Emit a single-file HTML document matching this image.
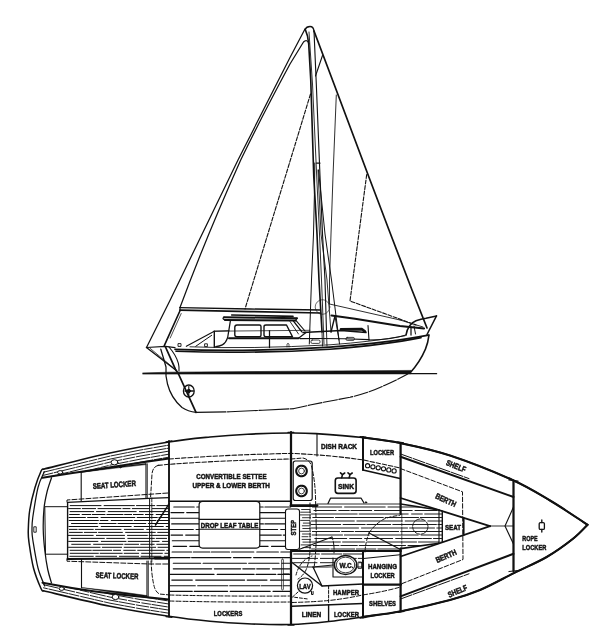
<!DOCTYPE html>
<html lang="en"><head><meta charset="utf-8"><title>Sailboat plan</title>
<style>
html,body{margin:0;padding:0;background:#fff}
svg{display:block}
text{font-family:"Liberation Sans",sans-serif;font-weight:bold;fill:#111;stroke:#111;stroke-width:0.5px}
</style></head><body>
<svg width="600" height="640" viewBox="0 0 600 640" fill="none" stroke="#111" stroke-linecap="round" stroke-linejoin="round">
<rect x="0" y="0" width="600" height="640" fill="#fff" stroke="none"/>

<g id="sailplan">
<polyline points="305,29 290,57.5 238,160 170.2,300 146.5,347.5" stroke-width="1.25" />
<path d="M309 44 C308 40 305.5 40 303.5 42 L290 64 Q262 116 240.7 160 Q205 240 180 307.5" stroke-width="1.25" />
<path d="M305 29.5 Q306.5 26.5 310 26.5 Q313.5 26.5 314 31" stroke-width="1.38" />
<polyline points="305.3,29.5 307.5,36 308.7,44 310.75,80 313.75,176 317,234 319,280 322,332" stroke-width="1.62" />
<polyline points="309,32 312.5,84 316.7,176 319.5,234 321.5,280 324,344" stroke-width="0.88" />
<polyline points="314,31 316.3,84 320,176 322.5,234 325,280 326.5,332" stroke-width="1.12" />
<line x1="316.5" y1="163" x2="320" y2="163" stroke-width="1.25" />
<polyline points="314,31 334,84 368.5,176 389,230 412,290 427,328" stroke-width="1.69" />
<polyline points="322.5,55.5 315.5,76" stroke-width="1.12" />
<polyline points="336.3,95 333,176 331,234 329.5,280 329.5,304" stroke-width="0.88" />
<polyline points="314.8,163 314.5,190 313.5,234 311.5,280 309.3,344" stroke-width="1.0" />
<polyline points="318.5,170 325,234 331.5,280 339.5,344" stroke-width="1.0" />
<polyline points="318,170 321,234 327,280 331,332" stroke-width="0.88" />
<line x1="310.5" y1="94" x2="245" y2="309" stroke-width="1.12" stroke-dasharray="4 1.6"/>
<polyline points="366.7,174.5 350,301 416,325" stroke-width="1.12" stroke-dasharray="4 1.6"/>
<polyline points="180,307.6 250,309 320.5,310" stroke-width="1.38" />
<polyline points="180,310.2 250,311.6 320.5,313" stroke-width="1.75" />
<line x1="180" y1="307.6" x2="180" y2="310.2" stroke-width="1.25" />
<line x1="180.1" y1="310.5" x2="164.3" y2="345.6" stroke-width="1.62" />
<line x1="181.2" y1="313.5" x2="170.2" y2="338" stroke-width="0.75" />
<circle cx="322.5" cy="307" r="7.3" stroke-width="0.6"/>
<polyline points="331.5,315.5 355,318.7 400,326 424,328.5" stroke-width="2.12" />
<line x1="329.5" y1="304" x2="400" y2="320" stroke-width="0.88" />
<line x1="400" y1="320" x2="423" y2="327" stroke-width="0.88" />
<line x1="335" y1="316" x2="331" y2="332" stroke-width="1.38" />
<line x1="335" y1="316" x2="339" y2="340" stroke-width="1.0" />
</g>
<g id="hull">
<polyline points="146.5,347.5 165.5,346.4 175,347.6" stroke-width="1.25" />
<line x1="146.5" y1="347.5" x2="176" y2="370.3" stroke-width="1.38" />
<line x1="150" y1="348.2" x2="173" y2="367.5" stroke-width="0.75" />
<path d="M169 347 Q176 355 178.4 363.3 Q179.3 367 179 371" stroke-width="1.12" />
<path d="M165.5 347 L175.4 369.2 L178.5 374 L196 412.4" stroke-width="1.75" />
<path d="M160.8 349.2 Q163.5 358 166 367 Q165.3 376 167.5 384 Q171 398 182 407.5 Q188 411.5 196 412.4" stroke-width="1.25" />
<ellipse cx="188.8" cy="391" rx="5.4" ry="6" stroke-width="1.3"/>
<circle cx="188.8" cy="391" r="1.7" fill="#111"/>
<line x1="188.8" y1="386.5" x2="188.8" y2="395.5" stroke-width="1.12" />
<line x1="185" y1="391" x2="193.4" y2="391" stroke-width="1.38" />
<path d="M196 412.4 L230 411.8 L262.5 410.2 L293 408.7" stroke-width="1.12" stroke-dasharray="30 1.5"/>
<path d="M293 408.7 Q302 407 310 405 Q330 401 350 397.3 Q370 392.5 385 385.2 Q399 379 410 372.8" stroke-width="1.12" stroke-dasharray="14 1.6"/>
<path d="M143 372.9 L170 372.2 L260 371.5 L340 370.9 L411 370.4 L410.5 373.9 L143 374.1Z" fill="#111" stroke-width="0.6"/>
<line x1="410" y1="373.7" x2="436.6" y2="373.7" stroke-width="1.25" />
<path d="M429 335 Q428 343 425.5 349 Q420 362 410 373" stroke-width="1.62" />
<path d="M175 349.3 Q250 352 330 347.2 Q390 342.6 428.5 335.2" stroke-width="1.75" />
<path d="M176 351.3 Q250 354 330 349.2 Q385 344.8 421 337.6" stroke-width="1.62" />
<path d="M190 346.8 Q250 349.2 330 344.8 Q372 341.8 405 335.8" stroke-width="0.88" />
<polyline points="186.3,346.3 214.3,331.3 229,330.8" stroke-width="1.12" />
<polyline points="195.7,346.3 211.7,335.3" stroke-width="1.0" />
<rect x="178.4" y="343.6" width="2.6" height="2.8" stroke-width="0.9"/>
<rect x="205" y="343.8" width="2.4" height="2.8" stroke-width="0.9"/>
<line x1="214.3" y1="331.3" x2="214.3" y2="347.3" stroke-width="1.38" />
<path d="M230.3 321.3 L227.7 337.3 Q226 343 222.3 344.9 Q219.5 346.3 215.7 346.7" stroke-width="1.25" />
<path d="M224 317.2 L297 318.2" stroke-width="2.0" />
<path d="M225 319.9 L295.5 320.6" stroke-width="2.0" />
<path d="M224 317.2 Q221.5 318.6 225 319.9" stroke-width="1.25" />
<line x1="297" y1="318.2" x2="295.5" y2="320.6" stroke-width="1.25" />
<line x1="231.7" y1="315" x2="293" y2="316.4" stroke-width="1.62" />
<line x1="214" y1="331.2" x2="310" y2="330.3" stroke-width="0.75" />
<path d="M237 325 H259.5 Q261 325 261 326.5 V335.3 Q261 336.8 259.5 336.8 H237 Q234.8 336.8 234.8 334.8 V327.2 Q234.8 325 237 325Z" stroke-width="1.38" />
<path d="M266 325 H286.5 L292.5 336.8 H266 Q264 336.8 264 335 V326.7 Q264 325 266 325Z" stroke-width="1.38" />
<line x1="293.3" y1="320.8" x2="301.7" y2="331.7" stroke-width="1.38" />
<line x1="296.3" y1="320.8" x2="305" y2="331" stroke-width="1.12" />
<line x1="290" y1="321.5" x2="298.5" y2="334" stroke-width="0.88" />
<line x1="229" y1="338.3" x2="298.5" y2="338.3" stroke-width="2.0" />
<line x1="298.5" y1="338.3" x2="306" y2="332.5" stroke-width="1.25" />
<line x1="269.5" y1="330.5" x2="269.5" y2="347.5" stroke-width="1.25" />
<path d="M287 347 V344 Q288 342.6 289 344 V347" stroke-width="0.7"/>
<path d="M303 332.6 L341 330.4 L366 332.6" stroke-width="1.5" />
<path d="M341 329.4 L362 329.2 L365 331.6" stroke-width="2.75" />
<path d="M300 338.6 Q335 338 369 339.6" stroke-width="1.12" />
<line x1="368" y1="325.5" x2="369" y2="340" stroke-width="1.12" />
<path d="M369 340 Q390 340 406 335" stroke-width="1.0" />
<rect x="311" y="340" width="9" height="3.4" rx="1.2" stroke-width="0.8"/>
<rect x="346" y="337.4" width="8.4" height="3" rx="1.2" stroke-width="0.8"/>
<line x1="322" y1="332" x2="322.5" y2="346" stroke-width="0.88" />
<line x1="326.5" y1="332" x2="327" y2="346" stroke-width="0.88" />
<path d="M406 335 Q408 324 416 320.8 Q421 319 426 318.2 L436.5 315.9" stroke-width="1.5" />
<line x1="436.5" y1="315.9" x2="427" y2="334.5" stroke-width="1.5" />
<line x1="411" y1="327" x2="411" y2="335" stroke-width="1.25" />
<line x1="414" y1="326" x2="415.5" y2="334" stroke-width="1.0" />
</g>
<g id="plan">
<defs><clipPath id="cpmain"><path d="M169 501 H291 V594 H169Z"/></clipPath><clipPath id="cpgal"><path d="M300 504 H400.6 L439 510 H442.3 V541.5 H439 V543.3 L400.6 548.6 V551 H300Z"/></clipPath><clipPath id="cphead"><path d="M291 551 H363 V569 H334 V567.5 L313 569 L301 570 L291 561Z"/></clipPath></defs>
<path d="M43.5 469.2 C54.6 466.5 89.1 457.5 110 453 C130.9 448.5 152.1 444.7 168.75 442 C185.4 439.3 196.9 438.3 210 437 C223.1 435.7 234.2 434.9 247.5 434.25 C260.8 433.6 278.6 433.1 290 433 C301.4 432.9 303.9 432.9 316 433.6 C328.1 434.4 348.5 435.9 362.5 437.5 C376.5 439.1 385.4 440.0 400 443 C414.6 446.0 431.2 449.3 450 455.5 C468.8 461.7 495.8 472.5 512.5 480 C529.2 487.5 539.6 494.4 550 500.5 C560.4 506.6 568.8 512.5 575 516.5 C581.2 520.5 585.4 523.4 587.5 524.8" stroke-width="1.69" />
<path d="M43.5 590.8 C54.6 593.4 89.1 602.0 110 606.25 C130.9 610.5 152.1 613.8 168.75 616.25 C185.4 618.8 196.9 620.0 210 621.25 C223.1 622.5 234.2 623.2 247.5 623.75 C260.8 624.3 276.5 624.9 290 624.5 C303.5 624.1 316.7 622.8 328.75 621.5 C340.8 620.2 350.5 618.7 362.5 617 C374.5 615.3 386.4 614.1 401 611.25 C415.6 608.4 436.8 603.5 450 600 C463.2 596.5 469.2 594.5 480 590 C490.8 585.5 503.6 578.2 514.7 572.7 C525.8 567.2 536.9 562.7 546.7 557 C556.5 551.3 566.5 543.9 573.3 538.5 C580.1 533.1 585.1 527.1 587.5 524.8" stroke-width="1.69" />
<path d="M362.5 437.5 C368.8 438.4 385.4 440.0 400 443 C414.6 446.0 431.2 449.3 450 455.5 C468.8 461.7 495.8 472.5 512.5 480 C529.2 487.5 539.6 494.4 550 500.5 C560.4 506.6 568.8 512.5 575 516.5 C581.2 520.5 585.4 523.4 587.5 524.8" stroke-width="2.06" />
<path d="M362.5 617 C368.9 616.0 386.4 614.1 401 611.25 C415.6 608.4 436.8 603.5 450 600 C463.2 596.5 469.2 594.5 480 590 C490.8 585.5 503.6 578.2 514.7 572.7 C525.8 567.2 536.9 562.7 546.7 557 C556.5 551.3 566.5 543.9 573.3 538.5 C580.1 533.1 585.1 527.1 587.5 524.8" stroke-width="2.06" />
<path d="M43.5 469.2 C43.1 469.5 42.6 467.8 41.2 470.8 C39.8 473.9 36.9 481.0 35 487.5 C33.1 494.0 30.9 502.8 29.75 510 C28.6 517.2 28.4 525.6 28.25 531 C28.1 536.4 28.1 536.3 29 542.5 C29.9 548.7 31.5 560.3 33.5 568 C35.5 575.7 39.3 584.7 41 588.5 C42.7 592.3 43.1 590.4 43.5 590.8" stroke-width="1.5" />
<path d="M44.3 471.75 C43.2 474.4 39.9 479.9 38 487.5 C36.1 495.1 33.8 510.4 32.75 517.5 C31.8 524.6 32.0 526.3 32 530 C32.0 533.7 31.8 533.2 32.75 539.5 C33.8 545.8 36.0 560.2 38 568 C40.0 575.8 43.6 583.0 44.75 586" stroke-width="1.25" />
<path d="M51.5 477.75 C50.8 480.1 48.2 486.9 47 492 C45.8 497.1 44.6 502.2 44 508.5 C43.4 514.8 43.1 523.1 43.25 530 C43.4 536.9 44.0 543.4 44.75 550 C45.5 556.6 46.6 564.0 47.75 569.5 C48.9 575.0 50.9 580.8 51.5 583" stroke-width="1.25" />
<rect x="34.2" y="526.8" width="2" height="5.4" stroke-width="0.9"/>
<defs><clipPath id="cpdeckT"><path d="M40 466 L110 450 L169 440 L169 458.5 L95 469.75 L42.5 477.75Z"/></clipPath><clipPath id="cpdeckB"><path d="M40 594 L110 610 L169 619 L169 599.5 L95 591.5 L42.5 582.5Z"/></clipPath></defs>
<path d="M43.5 472.2 L110.0 456.1 L140.0 450.1 L168.8 445.1" stroke-width="0.94" stroke-dasharray="11.9 1.2 16.8 1.1 15.0 1.4 7.9 1.6" stroke-dashoffset="0.7" clip-path="url(#cpdeckT)"/>
<path d="M43.5 587.8 L110.0 603.2 L140.0 608.7 L168.8 613.2" stroke-width="0.94" stroke-dasharray="13.5 1.1 8.4 1.5 19.4 1.1 10.3 1.8" stroke-dashoffset="19.0" clip-path="url(#cpdeckB)"/>
<path d="M43.5 475.3 L110.0 459.1 L140.0 453.1 L168.8 448.1" stroke-width="0.94" stroke-dasharray="15.7 1.5 21.6 1.1 19.9 1.3 9.2 1.1" stroke-dashoffset="6.2" clip-path="url(#cpdeckT)"/>
<path d="M43.5 584.7 L110.0 600.1 L140.0 605.6 L168.8 610.1" stroke-width="0.94" stroke-dasharray="19.2 1.2 15.7 1.8 12.6 1.7 7.9 1.1" stroke-dashoffset="4.1" clip-path="url(#cpdeckB)"/>
<path d="M43.5 478.3 L110.0 462.1 L140.0 456.1 L168.8 451.1" stroke-width="0.94" stroke-dasharray="17.2 1.5 11.7 1.7 13.8 1.4 18.9 1.8" stroke-dashoffset="4.9" clip-path="url(#cpdeckT)"/>
<path d="M43.5 581.6 L110.0 597.1 L140.0 602.6 L168.8 607.1" stroke-width="0.94" stroke-dasharray="15.6 1.6 20.1 1.9 11.3 2.2 8.8 1.5" stroke-dashoffset="15.1" clip-path="url(#cpdeckB)"/>
<path d="M43.5 481.4 L110.0 465.2 L140.0 459.2 L168.8 454.2" stroke-width="0.94" stroke-dasharray="9.3 1.6 7.6 1.8 18.5 1.7 20.1 1.4" stroke-dashoffset="13.9" clip-path="url(#cpdeckT)"/>
<path d="M43.5 578.6 L110.0 594.0 L140.0 599.5 L168.8 604.0" stroke-width="0.94" stroke-dasharray="15.9 1.7 13.8 2.0 21.2 1.6 17.0 1.1" stroke-dashoffset="14.0" clip-path="url(#cpdeckB)"/>
<path d="M43.5 484.4 L110.0 468.2 L140.0 462.2 L168.8 457.2" stroke-width="0.94" stroke-dasharray="16.7 2.2 19.3 1.3 12.8 1.8 7.3 1.6" stroke-dashoffset="3.4" clip-path="url(#cpdeckT)"/>
<path d="M43.5 575.5 L110.0 591.0 L140.0 596.5 L168.8 601.0" stroke-width="0.94" stroke-dasharray="8.8 1.1 18.5 1.2 10.7 1.5 20.1 1.1" stroke-dashoffset="9.0" clip-path="url(#cpdeckB)"/>
<path d="M42.5 477.75 Q70 473.2 95 469.75 Q130 464 169 458.5" stroke-width="2.0" />
<path d="M42.5 582.8 Q70 588 95 591.6 Q130 596 169 599.5" stroke-width="2.0" />
<path d="M81 472.3 L120 466.2 L146 463.6 L146 464.6 L120 467.6Z" fill="#111" stroke-width="0.5"/>
<path d="M81.5 587.6 L120 593.4 L147 596.8 L147 595.6 L120 591.8Z" fill="#111" stroke-width="0.5"/>
<ellipse cx="60.2" cy="472.3" rx="2.6" ry="1.7" stroke-width="1" fill="#fff"/>
<ellipse cx="114.5" cy="462.3" rx="3.4" ry="2.6" stroke-width="1" fill="#fff"/>
<circle cx="120.5" cy="466.6" r="1.2" fill="#111"/>
<ellipse cx="61.7" cy="588.7" rx="2.6" ry="1.7" stroke-width="1" fill="#fff"/>
<ellipse cx="115.5" cy="597" rx="3.4" ry="2.6" stroke-width="1" fill="#fff"/>
<polyline points="67.7,506.7 44.8,506.7 45.5,554.2 67.7,554.2" stroke-width="1.0" />
<polyline points="81.2,501 81.2,472.3" stroke-width="1.12" />
<polyline points="146,463.8 146,498.3" stroke-width="1.12" />
<polyline points="81.5,559 81.5,587.6" stroke-width="1.12" />
<polyline points="147,596.5 147,561" stroke-width="1.12" />
<line x1="147.4" y1="463.8" x2="147.4" y2="498" stroke-width="0.75" />
<line x1="148.4" y1="596.5" x2="148.4" y2="561" stroke-width="0.75" />
<defs><clipPath id="cpcock"><path d="M67.6 502.4 L149 498.4 L169 497.6 L169 559 L67.6 559Z"/></clipPath></defs>
<polyline points="67.6,559 67.6,502.4 149,498.4 169,497.6" stroke-width="1.38" />
<line x1="67.6" y1="559" x2="169" y2="558.2" stroke-width="1.88" />
<line x1="149.6" y1="498.4" x2="149.6" y2="558" stroke-width="1.0" />
<line x1="151.8" y1="498" x2="151.8" y2="562" stroke-width="0.88" stroke-dasharray="4 1.5"/>
<path d="M70.2 505.6H101.0M104.1 505.6H134.4M136.5 505.6H154.7M156.9 505.6H169.0" stroke-width="1.0" clip-path="url(#cpcock)"/>
<path d="M68.6 508.6H80.4M82.3 508.6H95.6M98.0 508.6H120.9M122.9 508.6H130.0M132.3 508.6H149.3M151.9 508.6H169.0" stroke-width="1.0" clip-path="url(#cpcock)"/>
<path d="M70.1 511.6H93.7M96.5 511.6H105.0M108.2 511.6H136.2M139.4 511.6H168.0" stroke-width="1.0" clip-path="url(#cpcock)"/>
<path d="M69.6 514.5H79.4M82.1 514.5H90.8M92.4 514.5H105.0M106.9 514.5H123.0M124.6 514.5H131.6M133.4 514.5H143.2M145.4 514.5H153.0M156.2 514.5H169.0" stroke-width="1.0" clip-path="url(#cpcock)"/>
<path d="M69.0 517.5H85.4M87.6 517.5H97.9M101.0 517.5H134.8M137.2 517.5H157.3M158.9 517.5H168.7" stroke-width="1.0" clip-path="url(#cpcock)"/>
<path d="M69.1 520.5H98.4M100.2 520.5H107.9M111.2 520.5H132.4M134.2 520.5H155.9M157.4 520.5H169.0" stroke-width="1.0" clip-path="url(#cpcock)"/>
<path d="M71.5 523.5H97.3M99.2 523.5H116.1M118.0 523.5H145.8M148.3 523.5H169.0" stroke-width="1.0" clip-path="url(#cpcock)"/>
<path d="M68.9 526.5H97.8M101.2 526.5H131.2M134.2 526.5H163.3M166.2 526.5H169.0" stroke-width="1.0" clip-path="url(#cpcock)"/>
<path d="M69.4 529.4H77.2M78.8 529.4H93.3M95.3 529.4H121.0M124.3 529.4H143.4M146.7 529.4H169.0" stroke-width="1.0" clip-path="url(#cpcock)"/>
<path d="M69.5 532.4H82.4M84.3 532.4H96.7M98.5 532.4H122.4M125.6 532.4H155.3M157.7 532.4H169.0" stroke-width="1.0" clip-path="url(#cpcock)"/>
<path d="M68.3 535.4H93.2M96.4 535.4H124.5M127.5 535.4H147.4M149.2 535.4H169.0" stroke-width="1.0" clip-path="url(#cpcock)"/>
<path d="M71.2 538.4H104.4M106.7 538.4H124.5M127.8 538.4H154.4M156.2 538.4H166.6M168.4 538.4H169.0" stroke-width="1.0" clip-path="url(#cpcock)"/>
<path d="M68.6 541.4H97.9M101.3 541.4H126.0M128.2 541.4H150.0M151.7 541.4H159.1M162.5 541.4H169.0" stroke-width="1.0" clip-path="url(#cpcock)"/>
<path d="M71.7 544.3H90.4M93.6 544.3H122.9M124.8 544.3H138.6M140.7 544.3H154.2M156.8 544.3H169.0" stroke-width="1.0" clip-path="url(#cpcock)"/>
<path d="M68.5 547.3H100.1M102.3 547.3H121.6M124.2 547.3H155.7M158.0 547.3H169.0" stroke-width="1.0" clip-path="url(#cpcock)"/>
<path d="M70.1 550.3H91.3M92.8 550.3H111.7M113.5 550.3H120.6M123.7 550.3H135.3M137.7 550.3H164.3M166.8 550.3H169.0" stroke-width="1.0" clip-path="url(#cpcock)"/>
<path d="M70.2 553.3H98.4M100.1 553.3H122.2M124.2 553.3H138.7M141.6 553.3H162.4M164.9 553.3H169.0" stroke-width="1.0" clip-path="url(#cpcock)"/>
<path d="M69.8 556.3H93.3M95.8 556.3H116.6M119.4 556.3H138.6M141.1 556.3H161.0M164.3 556.3H169.0" stroke-width="1.0" clip-path="url(#cpcock)"/>
<polyline points="67,502 67,500 168,493" stroke-width="1.0" stroke-dasharray="5 2"/>
<polyline points="67,559 67,561.2 150,564 168,564" stroke-width="1.0" stroke-dasharray="5 2"/>
<path d="M158 465.4 Q152.6 467 152 474 L150.6 497" stroke-width="1.0" stroke-dasharray="4 2"/>
<path d="M151 561 L151.8 572.4 Q153 583 154.6 587.8 Q156.5 593.3 160.2 594.1 L169 594.9" stroke-width="1.0" stroke-dasharray="4 2"/>
<line x1="169" y1="441" x2="169" y2="616.5" stroke-width="1.88" />
<line x1="169" y1="504" x2="155.5" y2="525" stroke-width="1.5" />
<line x1="155" y1="558" x2="169" y2="558" stroke-width="2.75" />
<line x1="169" y1="501.2" x2="290.5" y2="501.2" stroke-width="1.38" />
<path d="M169 459 Q230 454.6 291 453.4 Q330 455 363.4 460 L400.5 468" stroke-width="1.06" stroke-dasharray="4.5 1.8"/>
<path d="M158 465.4 L169 464.3 Q230 460 291 459" stroke-width="1.06" stroke-dasharray="4.5 1.8"/>
<path d="M173.8 507.0H194.2M196.8 507.0H244.5M247.7 507.0H263.2M264.9 507.0H291.0" stroke-width="1.15" clip-path="url(#cpmain)"/>
<path d="M171.0 512.6H183.9M186.7 512.6H228.1M231.4 512.6H247.6M250.5 512.6H286.9M288.7 512.6H291.0" stroke-width="1.15" clip-path="url(#cpmain)"/>
<path d="M170.9 518.2H219.0M221.3 518.2H250.8M254.2 518.2H291.0" stroke-width="1.15" clip-path="url(#cpmain)"/>
<path d="M171.7 523.9H202.4M204.5 523.9H222.4M224.5 523.9H263.4M264.9 523.9H291.0" stroke-width="1.15" clip-path="url(#cpmain)"/>
<path d="M170.1 529.5H193.3M196.1 529.5H226.6M228.2 529.5H277.6M280.7 529.5H291.0" stroke-width="1.15" clip-path="url(#cpmain)"/>
<path d="M171.1 535.1H182.6M185.7 535.1H206.5M208.3 535.1H235.2M238.5 535.1H281.3M283.3 535.1H291.0" stroke-width="1.15" clip-path="url(#cpmain)"/>
<path d="M172.3 540.7H210.3M212.0 540.7H224.3M227.2 540.7H254.2M255.8 540.7H291.0" stroke-width="1.15" clip-path="url(#cpmain)"/>
<path d="M173.2 546.3H186.6M189.8 546.3H202.4M205.7 546.3H233.8M236.0 546.3H268.1M271.5 546.3H291.0" stroke-width="1.15" clip-path="url(#cpmain)"/>
<path d="M172.1 552.0H191.6M193.4 552.0H209.8M211.4 552.0H229.5M231.6 552.0H253.8M256.8 552.0H278.4M280.9 552.0H291.0" stroke-width="1.15" clip-path="url(#cpmain)"/>
<path d="M170.1 557.6H190.1M191.6 557.6H230.9M233.5 557.6H251.1M253.6 557.6H291.0" stroke-width="1.15" clip-path="url(#cpmain)"/>
<path d="M173.3 563.2H200.6M203.1 563.2H246.4M248.7 563.2H279.0M281.9 563.2H291.0" stroke-width="1.15" clip-path="url(#cpmain)"/>
<path d="M173.3 568.8H211.6M214.4 568.8H240.6M242.8 568.8H254.9M256.7 568.8H269.5M272.5 568.8H291.0" stroke-width="1.15" clip-path="url(#cpmain)"/>
<path d="M170.3 574.4H214.0M217.2 574.4H254.1M256.1 574.4H275.8M277.9 574.4H291.0" stroke-width="1.15" clip-path="url(#cpmain)"/>
<path d="M171.8 580.1H192.3M195.7 580.1H244.6M247.2 580.1H267.0M270.4 580.1H291.0" stroke-width="1.15" clip-path="url(#cpmain)"/>
<path d="M170.0 585.7H195.3M197.7 585.7H227.8M229.7 585.7H259.9M261.4 585.7H282.0M283.7 585.7H291.0" stroke-width="1.15" clip-path="url(#cpmain)"/>
<path d="M170.1 591.3H192.3M194.2 591.3H227.6M230.2 591.3H270.2M273.0 591.3H291.0" stroke-width="1.15" clip-path="url(#cpmain)"/>
<path d="M301.6 509.5H309.5" stroke-width="0.85" clip-path="url(#cpgal)"/>
<path d="M300.6 512.2H310.5" stroke-width="0.85" clip-path="url(#cpgal)"/>
<path d="M300.2 514.9H310.5" stroke-width="0.85" clip-path="url(#cpgal)"/>
<path d="M302.5 517.7H310.5" stroke-width="0.85" clip-path="url(#cpgal)"/>
<path d="M300.6 520.4H309.7" stroke-width="0.85" clip-path="url(#cpgal)"/>
<path d="M303.3 523.1H310.5" stroke-width="0.85" clip-path="url(#cpgal)"/>
<path d="M302.3 525.8H310.5" stroke-width="0.85" clip-path="url(#cpgal)"/>
<path d="M302.8 528.5H310.2" stroke-width="0.85" clip-path="url(#cpgal)"/>
<path d="M300.5 531.3H308.7M309.8 531.3H310.5" stroke-width="0.85" clip-path="url(#cpgal)"/>
<path d="M302.5 534.0H310.5" stroke-width="0.85" clip-path="url(#cpgal)"/>
<path d="M302.0 536.7H308.0M309.8 536.7H310.5" stroke-width="0.85" clip-path="url(#cpgal)"/>
<path d="M302.1 539.4H310.5" stroke-width="0.85" clip-path="url(#cpgal)"/>
<path d="M302.9 542.1H310.5" stroke-width="0.85" clip-path="url(#cpgal)"/>
<path d="M301.1 544.9H310.5" stroke-width="0.85" clip-path="url(#cpgal)"/>
<path d="M303.0 547.6H310.5" stroke-width="0.85" clip-path="url(#cpgal)"/>
<path d="M312.5 507.0H341.7M344.6 507.0H385.2M388.0 507.0H423.7M425.3 507.0H441.2" stroke-width="0.95" clip-path="url(#cpgal)"/>
<path d="M314.0 510.5H336.1M338.8 510.5H349.3M350.9 510.5H371.7M374.5 510.5H412.2M415.0 510.5H436.7M439.2 510.5H442.0" stroke-width="0.95" clip-path="url(#cpgal)"/>
<path d="M311.5 514.0H357.2M359.1 514.0H408.2M411.6 514.0H422.3M424.7 514.0H442.0" stroke-width="0.95" clip-path="url(#cpgal)"/>
<path d="M312.8 517.5H333.5M335.5 517.5H383.3M385.2 517.5H418.5M420.3 517.5H442.0" stroke-width="0.95" clip-path="url(#cpgal)"/>
<path d="M311.5 521.0H354.3M356.9 521.0H402.3M405.2 521.0H424.5M427.8 521.0H442.0" stroke-width="0.95" clip-path="url(#cpgal)"/>
<path d="M311.0 524.5H340.7M343.1 524.5H365.2M366.9 524.5H390.7M392.8 524.5H436.4M437.9 524.5H442.0" stroke-width="0.95" clip-path="url(#cpgal)"/>
<path d="M311.5 528.0H358.5M361.5 528.0H407.5M409.6 528.0H434.5M436.8 528.0H442.0" stroke-width="0.95" clip-path="url(#cpgal)"/>
<path d="M312.4 531.5H339.6M341.6 531.5H353.5M355.2 531.5H398.6M400.7 531.5H442.0" stroke-width="0.95" clip-path="url(#cpgal)"/>
<path d="M312.1 535.0H342.5M344.4 535.0H369.3M372.7 535.0H418.1M421.2 535.0H442.0" stroke-width="0.95" clip-path="url(#cpgal)"/>
<path d="M314.8 538.5H346.7M349.7 538.5H361.7M364.6 538.5H392.6M395.7 538.5H431.4M433.5 538.5H442.0" stroke-width="0.95" clip-path="url(#cpgal)"/>
<path d="M311.5 542.0H340.4M342.6 542.0H364.5M367.5 542.0H416.5M418.5 542.0H442.0" stroke-width="0.95" clip-path="url(#cpgal)"/>
<path d="M313.2 545.5H339.0M340.8 545.5H357.3M359.2 545.5H405.5M408.0 545.5H426.8M430.1 545.5H442.0" stroke-width="0.95" clip-path="url(#cpgal)"/>
<path d="M311.6 549.0H329.3M330.9 549.0H354.6M356.3 549.0H375.9M377.9 549.0H410.7M413.9 549.0H442.0" stroke-width="0.95" clip-path="url(#cpgal)"/>
<path d="M293.7 554.0H319.4M321.6 554.0H341.8M343.4 554.0H361.7" stroke-width="0.95" clip-path="url(#cphead)"/>
<path d="M292.5 558.4H317.6M320.4 558.4H356.3M358.2 558.4H363.0" stroke-width="0.95" clip-path="url(#cphead)"/>
<path d="M293.6 562.7H317.0M320.4 562.7H355.8M359.1 562.7H363.0" stroke-width="0.95" clip-path="url(#cphead)"/>
<path d="M294.8 567.0H331.7M334.2 567.0H361.8" stroke-width="0.95" clip-path="url(#cphead)"/>
<rect x="199.1" y="501.3" width="60.7" height="46.8" rx="3.5" fill="#fff" stroke-width="1.2"/>
<line x1="199.1" y1="519.4" x2="259.8" y2="519.4" stroke-width="1.12" />
<line x1="199.1" y1="529.2" x2="259.8" y2="529.2" stroke-width="1.12" />
<path d="M169 595 Q230 596.5 291 596" stroke-width="1.0" stroke-dasharray="5 2"/>
<path d="M169 601 Q230 602.5 291 602 " stroke-width="1.0" stroke-dasharray="5 2"/>
<line x1="291" y1="432" x2="291" y2="506" stroke-width="2.25" />
<line x1="291" y1="551" x2="291" y2="624" stroke-width="2.25" />
<line x1="291" y1="505.5" x2="317" y2="505.5" stroke-width="2.75" />
<rect x="285.5" y="509" width="14" height="40.5" rx="2.5" fill="#fff" stroke-width="1.1"/>
<rect x="281.6" y="559" width="1.8" height="31" rx="0.9" stroke-width="0.7"/>
<line x1="283.5" y1="574" x2="289" y2="574" stroke-width="1.0" />
<rect x="293.2" y="461" width="19" height="39.5" rx="2.2" stroke-width="1.2"/>
<circle cx="301.5" cy="471" r="5.3" stroke-width="2.1" stroke-dasharray="2.6 0.7"/>
<circle cx="301.5" cy="471" r="2.9" stroke-width="0.8"/>
<circle cx="301.5" cy="491" r="5.3" stroke-width="2.1" stroke-dasharray="2.6 0.7"/>
<circle cx="301.5" cy="491" r="2.9" stroke-width="0.8"/>
<line x1="317" y1="433.5" x2="317" y2="456" stroke-width="1.12" />
<line x1="363" y1="437" x2="363" y2="470" stroke-width="2.0" />
<line x1="363" y1="470" x2="400" y2="478.5" stroke-width="1.75" />
<circle cx="367.6" cy="465.7" r="2.1" stroke-width="1.1"/>
<circle cx="372.9" cy="466.8" r="2.1" stroke-width="1.1"/>
<circle cx="378.2" cy="467.8" r="2.1" stroke-width="1.1"/>
<circle cx="383.5" cy="468.8" r="2.1" stroke-width="1.1"/>
<circle cx="388.8" cy="469.9" r="2.1" stroke-width="1.1"/>
<circle cx="394.1" cy="470.9" r="2.1" stroke-width="1.1"/>
<line x1="400.6" y1="443" x2="400.6" y2="514" stroke-width="2.25" />
<line x1="400.6" y1="548.6" x2="400.6" y2="611" stroke-width="2.25" />
<line x1="401.8" y1="514" x2="401.8" y2="548.6" stroke-width="0.75" stroke-dasharray="3 1.5"/>
<rect x="335.3" y="478" width="20.8" height="15.4" rx="2.6" stroke-width="1.6"/>
<path d="M341.7 477.6 L342.5 474.6 L340.5 472.8 M342.5 474.6 L344.7 473" stroke-width="1.62" />
<path d="M349.2 477.6 L350 474.6 L348 472.8 M350 474.6 L352.2 473" stroke-width="1.62" />
<path d="M328 503.5 L330.6 498 H361 L364 503" stroke-width="1.25" />
<circle cx="366" cy="502.4" r="0.7" fill="#111"/>
<path d="M291 459 L303 458 Q309.5 459.5 311.5 466 Q315 480 315.5 497 L316.3 530 Q316.3 552 314 568" stroke-width="1.0" stroke-dasharray="4 2"/>
<path d="M310 503 L310 550 Q309.5 562 306 570 Q303 576 298 579" stroke-width="1.0" stroke-dasharray="4 2"/>
<path d="M332 537 Q334.5 544 334 553" stroke-width="1.0" stroke-dasharray="3 1.8"/>
<path d="M369 533 Q375 524 384 519 Q392 516 399.5 515.5" stroke-width="1.0" stroke-dasharray="4 2"/>
<path d="M369 533 Q365.5 542 365 552" stroke-width="1.0" stroke-dasharray="3 1.8"/>
<line x1="369" y1="533" x2="399.5" y2="549" stroke-width="1.25" />
<line x1="299.5" y1="549.3" x2="332" y2="537" stroke-width="1.12" />
<line x1="317" y1="504" x2="400.5" y2="504" stroke-width="0.88" />
<line x1="363.5" y1="558.5" x2="400" y2="554.7" stroke-width="1.12" />
<line x1="291" y1="551" x2="401" y2="551" stroke-width="1.88" />
<line x1="363" y1="551" x2="363" y2="617.5" stroke-width="2.0" />
<line x1="363" y1="584.5" x2="401" y2="584.5" stroke-width="2.25" />
<line x1="291.8" y1="606.2" x2="363" y2="603.4" stroke-width="1.5" />
<line x1="328.6" y1="604.8" x2="328.6" y2="621.3" stroke-width="1.38" />
<line x1="328.6" y1="586" x2="328.6" y2="604" stroke-width="1.0" stroke-dasharray="3 1.5"/>
<polyline points="291.4,562 322,586 363,584" stroke-width="1.38" />
<polyline points="313,567 322,586" stroke-width="1.25" />
<polyline points="313,567 333,565" stroke-width="1.12" />
<polyline points="333,558 333,577 362,577" stroke-width="1.12" />
<ellipse cx="345.6" cy="565" rx="11.2" ry="9.6" fill="#fff" stroke-width="1.5"/>
<ellipse cx="345.6" cy="565" rx="9.3" ry="7.8" stroke-width="0.8"/>
<rect x="358.5" y="562" width="3" height="6.5" stroke-width="0.8"/>
<circle cx="305" cy="585.6" r="7.6" fill="#fff" stroke-width="1.2"/>
<path d="M311.5 591.5 v3 h1.6 v-3" stroke-width="1.0" />
<path d="M291.8 602.5 Q312 602 329 600.5 Q347 598.5 362.5 595 Q385 591.5 400.5 587" stroke-width="1.0" stroke-dasharray="4.5 2"/>
<path d="M298 592 L292.5 597 L308 599" stroke-width="1.0" stroke-dasharray="3 1.8"/>
<path d="M296 575 Q300 560 312 556" stroke-width="1.0" stroke-dasharray="3 2"/>
<line x1="400.6" y1="456.7" x2="513.5" y2="497" stroke-width="2.0" />
<line x1="400.6" y1="454" x2="469" y2="478.6" stroke-width="1.0" stroke-dasharray="12 1.5"/>
<line x1="400.6" y1="596.4" x2="513.5" y2="553.8" stroke-width="2.0" />
<line x1="400.6" y1="599" x2="469" y2="573.8" stroke-width="1.0" stroke-dasharray="12 1.5"/>
<line x1="400.6" y1="498" x2="490" y2="526.2" stroke-width="1.81" />
<line x1="400.6" y1="556.5" x2="490" y2="526.2" stroke-width="1.81" />
<polyline points="400.6,468.6 462.5,491.8 463,559.5 401,584" stroke-width="1.0" stroke-dasharray="4.5 2"/>
<line x1="442.3" y1="511.3" x2="442.3" y2="541.5" stroke-width="1.38" />
<line x1="439" y1="510" x2="439" y2="543.3" stroke-width="1.12" />
<line x1="463.7" y1="518" x2="463.7" y2="535" stroke-width="1.75" />
<line x1="400.6" y1="504" x2="439" y2="510" stroke-width="1.62" />
<line x1="400.6" y1="548.6" x2="439" y2="543.3" stroke-width="1.62" />
<circle cx="420.3" cy="526.6" r="7.7" stroke-width="0.9" stroke-dasharray="5 1.2"/>
<line x1="166" y1="441.72" x2="172" y2="440.88" stroke-width="1.12" />
<line x1="287.9" y1="432.42999999999995" x2="293.9" y2="432.37" stroke-width="1.12" />
<line x1="360" y1="436.47" x2="366" y2="437.13" stroke-width="1.12" />
<line x1="397.6" y1="441.79" x2="403.6" y2="442.81" stroke-width="1.12" />
<line x1="166" y1="616.58" x2="172" y2="617.42" stroke-width="1.12" />
<line x1="288" y1="625.2" x2="294" y2="625.2" stroke-width="1.12" />
<line x1="360" y1="618.16" x2="366" y2="617.4399999999999" stroke-width="1.12" />
<line x1="398" y1="612.51" x2="404" y2="611.49" stroke-width="1.12" />
<line x1="513.5" y1="480.5" x2="513.5" y2="571" stroke-width="2.25" />
<line x1="509" y1="480" x2="518" y2="481" stroke-width="1.25" />
<line x1="509" y1="571.5" x2="518" y2="570.5" stroke-width="1.25" />
<line x1="490" y1="526" x2="513" y2="526" stroke-width="0.88" />
<polyline points="513.5,507 505,526 513.5,544" stroke-width="1.12" />
<rect x="539.2" y="522.6" width="5.2" height="6.8" rx="1.2" stroke-width="1.3"/>
<line x1="541.8" y1="520" x2="541.8" y2="522.6" stroke-width="1.38" />
<line x1="541.8" y1="529.4" x2="541.8" y2="532" stroke-width="1.38" />
</g>
<g id="labels" opacity="0.99">
<text x="92.7" y="487.5" font-size="8" textLength="43.2" lengthAdjust="spacingAndGlyphs" transform="rotate(-4 114.3 484.6)">SEAT LOCKER</text>
<text x="95.7" y="578.5" font-size="8" textLength="42.7" lengthAdjust="spacingAndGlyphs" transform="rotate(2 117 575.6)">SEAT LOCKER</text>
<text x="196.3" y="479.2" font-size="8" textLength="70.3" lengthAdjust="spacingAndGlyphs">CONVERTIBLE SETTEE</text>
<text x="192.4" y="488.3" font-size="8" textLength="77.5" lengthAdjust="spacingAndGlyphs">UPPER &amp; LOWER BERTH</text>
<text x="200.8" y="527.5" font-size="8" textLength="57.5" lengthAdjust="spacingAndGlyphs">DROP LEAF TABLE</text>
<text x="285.1" y="530.7" font-size="8" textLength="15.6" lengthAdjust="spacingAndGlyphs" transform="rotate(-90 292.9 527.8)">STEP</text>
<text x="321.0" y="448.9" font-size="8" textLength="36" lengthAdjust="spacingAndGlyphs">DISH RACK</text>
<text x="370.0" y="454.9" font-size="8" textLength="24" lengthAdjust="spacingAndGlyphs">LOCKER</text>
<text x="338.0" y="489.2" font-size="8" textLength="16" lengthAdjust="spacingAndGlyphs">SINK</text>
<text x="339.5" y="568.4" font-size="8" textLength="14" lengthAdjust="spacingAndGlyphs">W.C.</text>
<text x="299.2" y="588.7" font-size="8" textLength="11.5" lengthAdjust="spacingAndGlyphs">LAV</text>
<text x="368.0" y="568.9" font-size="8" textLength="29" lengthAdjust="spacingAndGlyphs">HANGING</text>
<text x="370.4" y="577.5" font-size="8" textLength="24.2" lengthAdjust="spacingAndGlyphs">LOCKER</text>
<text x="333.0" y="595.4" font-size="8" textLength="26" lengthAdjust="spacingAndGlyphs">HAMPER</text>
<text x="301.8" y="616.6" font-size="8" textLength="19.5" lengthAdjust="spacingAndGlyphs">LINEN</text>
<text x="334.0" y="616.9" font-size="8" textLength="25" lengthAdjust="spacingAndGlyphs">LOCKER</text>
<text x="369.0" y="605.9" font-size="8" textLength="27" lengthAdjust="spacingAndGlyphs">SHELVES</text>
<text x="213.8" y="615.9" font-size="8" textLength="28.5" lengthAdjust="spacingAndGlyphs">LOCKERS</text>
<text x="445.8" y="468.9" font-size="8" textLength="20.5" lengthAdjust="spacingAndGlyphs" transform="rotate(22 456 466)">SHELF</text>
<text x="435.0" y="502.9" font-size="8" textLength="22" lengthAdjust="spacingAndGlyphs" transform="rotate(25 446 500)">BERTH</text>
<text x="445.0" y="529.9" font-size="8" textLength="16" lengthAdjust="spacingAndGlyphs">SEAT</text>
<text x="435.0" y="558.9" font-size="8" textLength="22" lengthAdjust="spacingAndGlyphs" transform="rotate(-24 446 556)">BERTH</text>
<text x="447.2" y="593.9" font-size="8" textLength="20.5" lengthAdjust="spacingAndGlyphs" transform="rotate(-23 457.5 591)">SHELF</text>
<text x="522.3" y="540.6" font-size="8" textLength="15.3" lengthAdjust="spacingAndGlyphs">ROPE</text>
<text x="522.3" y="549.7" font-size="8" textLength="24" lengthAdjust="spacingAndGlyphs">LOCKER</text>
</g>
</svg></body></html>
